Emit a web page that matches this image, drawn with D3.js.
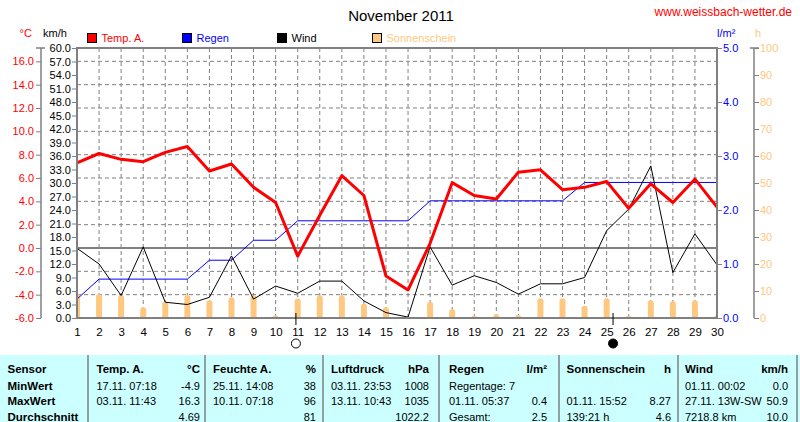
<!DOCTYPE html>
<html><head><meta charset="utf-8">
<script src="https://cdn.jsdelivr.net/npm/d3@7"></script>
<style>
html,body{margin:0;padding:0;background:#fff;}
svg{display:block;font-family:"Liberation Sans",Arial,sans-serif;}
text{white-space:pre;}
</style></head><body>
<svg id="c" width="800" height="422"></svg>
<script>
// ---------- data ----------
const days = d3.range(1, 31);
const tempA = [7.3,8.1,7.6,7.4,8.2,8.7,6.6,7.2,5.2,3.9,-0.7,2.8,6.2,4.5,-2.4,-3.6,0.4,5.6,4.5,4.2,6.5,6.7,5.0,5.2,5.7,3.4,5.5,3.9,5.9,3.5];
const rainCum = [0.35,0.72,0.72,0.72,0.72,0.72,1.07,1.07,1.44,1.44,1.8,1.8,1.8,1.8,1.8,1.8,2.17,2.17,2.17,2.17,2.17,2.17,2.17,2.51,2.51,2.51,2.51,2.51,2.51,2.51];
const wind = [15.5,12.0,5.0,15.8,3.5,3.0,4.6,13.8,4.2,7.1,5.5,8.2,8.2,3.8,1.2,0.2,15.8,7.3,9.4,7.9,5.3,7.6,7.6,9.0,19.4,24.2,33.8,10.1,18.7,11.8];
const sun = [9.0,8.9,8.5,4.0,6.0,8.5,6.7,7.7,8.4,1.0,7.2,8.4,8.4,5.4,4.0,0,6.0,3.3,0.9,1.5,1.1,7.3,7.3,4.5,7.3,0.9,6.6,6.2,6.6,1.0];
const moonDays = [10.92, 25.29];
const moonTypes = ["full", "new"];
const tempTicks = d3.range(-6, 17, 2);
const windTicks = d3.range(0, 61, 3);
const rainTicks = [0,1,2,3,4,5];
const sunTicks = d3.range(0, 101, 10);
const legendNames = ["Temp. A.", "Regen", "Wind", "Sonnenschein"];
const legendColors = ["#ff0000", "#0000ff", "#000000", "#ffc880"];
const legendTextColors = ["#ff0000", "#0000ff", "#000000", "#ffc880"];
// table
const rowLabels = ["Sensor","MinWert","MaxWert","Durchschnitt"];
const tableSections = ["Temp. A.","Feuchte A.","Luftdruck","Regen","Sonnenschein","Wind"];
const tableUnits = ["°C","%","hPa","l/m²","h","km/h"];
const minText = ["17.11. 07:18","25.11. 14:08","03.11. 23:53","Regentage: 7","","01.11. 00:02"];
const minVal = ["-4.9","38","1008","","","0.0"];
const maxText = ["03.11. 11:43","10.11. 07:18","13.11. 10:43","01.11. 05:37","01.11. 15:52","27.11. 13W-SW"];
const maxVal = ["16.3","96","1035","0.4","8.27","50.9"];
const avgText = ["","","","Gesamt:","139:21 h","7218.8 km"];
const avgVal = ["4.69","81","1022.2","2.5","4.6","10.0"];

// ---------- layout ----------
const L = 77, R = 717, T = 48, B = 318;
const gray = "#808080";
const svg = d3.select("#c");

const x = d3.scaleLinear().domain([1, 30]).range([L, R]);
const yTemp = d3.scaleLinear().domain([-6, -6 + 270/11.667]).range([B, T]);
const yWind = d3.scaleLinear().domain([0, 60]).range([B, T]);
const yRain = d3.scaleLinear().domain([0, 5]).range([B, T]);
const ySun = d3.scaleLinear().domain([0, 100]).range([B, T]);

svg.append("defs").append("clipPath").attr("id", "plotclip")
  .append("rect").attr("x", L).attr("y", T).attr("width", R - L).attr("height", B - T);

// title
svg.append("text").attr("x", 401).attr("y", 20.5).attr("text-anchor", "middle")
  .attr("font-size", 15).text("November 2011");
svg.append("text").attr("x", 792).attr("y", 16).attr("text-anchor", "end")
  .attr("font-size", 12).attr("fill", "#ff0000").text("www.weissbach-wetter.de");

// unit labels
const unitLbl = [["°C", 19.5, "#ff0000"], ["km/h", 43, "#000"], ["l/m²", 717, "#0000ff"], ["h", 755, "#ffc880"]];
unitLbl.forEach(u => svg.append("text").attr("x", u[1]).attr("y", 37).attr("font-size", 11).attr("fill", u[2]).text(u[0]));

// legend
const lg = svg.append("g").selectAll("g").data(legendNames).join("g")
  .attr("transform", (d, i) => `translate(${87.5 + i * 95},33.5)`);
lg.append("rect").attr("width", 9).attr("height", 9).attr("fill", (d, i) => legendColors[i]).attr("stroke", "#000").attr("stroke-width", 1);
lg.append("text").attr("x", 14).attr("y", 8.5).attr("font-size", 11).attr("fill", (d, i) => legendTextColors[i]).text(d => d);

// grid
const grid = svg.append("g");
grid.selectAll("line.v").data(days.slice(1, 29)).join("line")
  .attr("x1", d => x(d)).attr("x2", d => x(d)).attr("y1", T).attr("y2", B)
  .attr("stroke", gray).attr("stroke-dasharray", "4,3");
grid.selectAll("line.h").data(tempTicks.filter(t => t > -6 && t !== 0)).join("line")
  .attr("x1", L).attr("x2", R).attr("y1", d => yTemp(d)).attr("y2", d => yTemp(d))
  .attr("stroke", gray).attr("stroke-dasharray", "4,3");
svg.append("line").attr("x1", L).attr("x2", R).attr("y1", yTemp(0)).attr("y2", yTemp(0))
  .attr("stroke", gray).attr("stroke-width", 2);

// sunshine bars
svg.append("g").attr("clip-path", "url(#plotclip)").selectAll("rect").data(sun).join("rect")
  .attr("x", (d, i) => x(days[i]) - 3).attr("width", 6)
  .attr("y", d => ySun(d)).attr("height", d => d > 0 ? B - ySun(d) + 5 : 0)
  .attr("rx", 3).attr("ry", 3).attr("fill", "#ffc880");

// rain
svg.append("path").datum(rainCum)
  .attr("d", d3.line().x((d, i) => x(days[i])).y(d => yRain(d)))
  .attr("fill", "none").attr("stroke", "#0000ff").attr("stroke-width", 1);
// wind
svg.append("path").datum(wind)
  .attr("d", d3.line().x((d, i) => x(days[i])).y(d => yWind(d)))
  .attr("fill", "none").attr("stroke", "#000").attr("stroke-width", 1);
// temperature
svg.append("path").datum(tempA)
  .attr("d", d3.line().x((d, i) => x(days[i])).y(d => yTemp(d)))
  .attr("fill", "none").attr("stroke", "#ff0000").attr("stroke-width", 3).attr("stroke-linejoin", "round");

// plot border
svg.append("rect").attr("x", L).attr("y", T).attr("width", R - L).attr("height", B - T)
  .attr("fill", "none").attr("stroke", gray).attr("stroke-width", 2);

const fmt1 = d => d.toFixed(1);
function styleAxis(g, color) {
  g.selectAll("text").attr("fill", color).attr("font-size", 11).attr("font-family", '"Liberation Sans",Arial,sans-serif');
  g.selectAll("line").attr("stroke", gray);
  g.selectAll("path.domain").attr("stroke", gray);
}
// temp axis
const gT = svg.append("g").attr("transform", "translate(41,0)")
  .call(d3.axisLeft(yTemp).tickValues(tempTicks).tickSize(5).tickSizeOuter(0).tickPadding(2).tickFormat(fmt1));
styleAxis(gT, "#ff0000");
gT.select("path.domain").attr("d", `M0,${T}V${B}`).attr("stroke-width", 1.5);
svg.append("line").attr("x1", 36).attr("x2", 45).attr("y1", T).attr("y2", T).attr("stroke", gray).attr("stroke-width", 1.5);
// km/h axis
const gW = svg.append("g").attr("transform", `translate(${L},0)`)
  .call(d3.axisLeft(yWind).tickValues(windTicks).tickSize(5).tickSizeOuter(0).tickPadding(1).tickFormat(fmt1));
styleAxis(gW, "#000");
gW.select("path.domain").remove();
// rain axis
const gR = svg.append("g").attr("transform", `translate(${R},0)`)
  .call(d3.axisRight(yRain).tickValues(rainTicks).tickSize(5).tickSizeOuter(0).tickPadding(1).tickFormat(fmt1));
styleAxis(gR, "#0000ff");
gR.select("path.domain").remove();
// sun axis
const gS = svg.append("g").attr("transform", "translate(754,0)")
  .call(d3.axisRight(ySun).tickValues(sunTicks).tickSize(5).tickSizeOuter(0).tickPadding(1).tickFormat(d3.format("d")));
styleAxis(gS, "#ffc880");
gS.select("path.domain").attr("d", `M0,${T}V${B}`).attr("stroke-width", 1.5);
svg.append("line").attr("x1", 750).attr("x2", 759).attr("y1", T).attr("y2", T).attr("stroke", gray).attr("stroke-width", 1.5);
// x axis
const gX = svg.append("g").attr("transform", `translate(0,${B})`)
  .call(d3.axisBottom(x).tickValues(days).tickSize(0).tickPadding(10).tickFormat(d3.format("d")));
gX.select("path.domain").remove();
gX.selectAll("text").attr("font-size", 11.5).attr("fill", "#000").attr("font-family", '"Liberation Sans",Arial,sans-serif');

// moon markers
const mg = svg.append("g").selectAll("g").data(moonDays).join("g");
mg.append("line").attr("x1", d => x(d)).attr("x2", d => x(d)).attr("y1", 313).attr("y2", 325).attr("stroke", "#000");
mg.append("circle").attr("cx", d => x(d)).attr("cy", 343.5).attr("r", 4.5)
  .attr("fill", (d, i) => moonTypes[i] === "new" ? "#000" : "#fff").attr("stroke", "#000");

// ---------- table ----------
const tb = svg.append("g");
tb.append("rect").attr("x", 0).attr("y", 355).attr("width", 800).attr("height", 67).attr("fill", "#ccffff");
const seps = [88, 205, 323, 439, 559, 678, 797];
tb.selectAll("line").data(seps).join("line").attr("x1", d => d).attr("x2", d => d).attr("y1", 355).attr("y2", 422)
  .attr("stroke", gray).attr("stroke-width", 1.5);
const colL = [96.5, 213, 331, 449, 566.5, 685];
const colR = [200, 316, 429, 547, 671, 788];
const rowY = [373, 389.5, 404.5, 421];
const fs = 11.5;
rowLabels.forEach((t, r) => tb.append("text").attr("x", 7.5).attr("y", rowY[r]).attr("font-size", fs).attr("font-weight", "bold").text(t));
tableSections.forEach((t, c) => {
  tb.append("text").attr("x", colL[c]).attr("y", rowY[0]).attr("font-size", fs).attr("font-weight", "bold").text(t);
  tb.append("text").attr("x", colR[c]).attr("y", rowY[0]).attr("font-size", fs).attr("font-weight", "bold").attr("text-anchor", "end").text(tableUnits[c]);
  [[minText, minVal], [maxText, maxVal], [avgText, avgVal]].forEach((pair, k) => {
    tb.append("text").attr("x", colL[c]).attr("y", rowY[k + 1]).attr("font-size", 11).text(pair[0][c]);
    tb.append("text").attr("x", colR[c]).attr("y", rowY[k + 1]).attr("font-size", 11).attr("text-anchor", "end").text(pair[1][c]);
  });
});
</script>
</body></html>
